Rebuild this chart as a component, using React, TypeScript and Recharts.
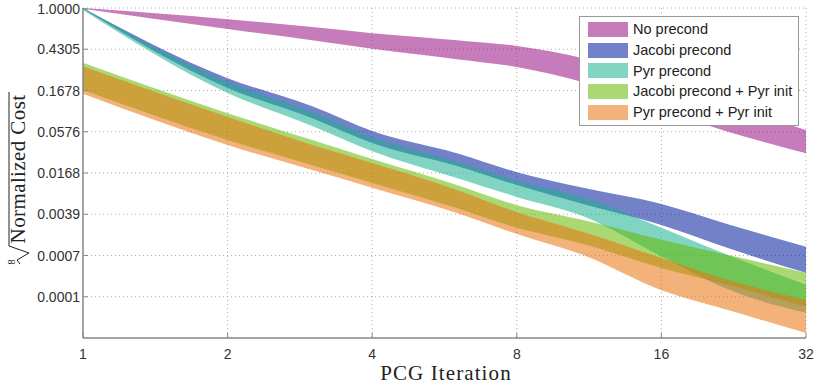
import { AreaChart, Area, XAxis, YAxis, CartesianGrid, Legend } from 'recharts';

// PCG iterations (log2 x axis)
const iterations = [1, 2, 3, 4, 6, 8, 11, 16, 22, 32];

// y values are the 8th root of the normalized cost, [low, high] per iteration
const noPrecond = [
  [0.998, 1.0], [0.949, 0.973], [0.922, 0.954], [0.901, 0.939], [0.876, 0.922],
  [0.857, 0.908], [0.82, 0.878], [0.752, 0.82], [0.7, 0.766], [0.648, 0.704],
];
const jacobiPrecond = [
  [0.998, 1.0], [0.806, 0.83], [0.733, 0.762], [0.673, 0.702], [0.617, 0.648],
  [0.571, 0.602], [0.525, 0.564], [0.474, 0.525], [0.418, 0.476], [0.358, 0.421],
];
const pyrPrecond = [
  [0.995, 1.0], [0.794, 0.821], [0.714, 0.748], [0.653, 0.687], [0.588, 0.627],
  [0.542, 0.581], [0.495, 0.541], [0.398, 0.467], [0.318, 0.401], [0.261, 0.329],
];
const jacobiPyrInit = [
  [0.801, 0.867], [0.68, 0.745], [0.619, 0.68], [0.576, 0.634], [0.515, 0.571],
  [0.467, 0.522], [0.428, 0.486], [0.37, 0.438], [0.329, 0.401], [0.275, 0.358],
];
const pyrPyrInit = [
  [0.792, 0.859], [0.668, 0.736], [0.607, 0.668], [0.564, 0.624], [0.503, 0.559],
  [0.452, 0.505], [0.401, 0.457], [0.316, 0.394], [0.268, 0.341], [0.212, 0.292],
];

const seriesNames = ['No precond', 'Jacobi precond', 'Pyr precond', 'Jacobi precond + Pyr init', 'Pyr precond + Pyr init'];
const seriesKeys = ['noPrecond', 'jacobiPrecond', 'pyrPrecond', 'jacobiPyrInit', 'pyrPyrInit'];
// saturated face colours, drawn half transparent like the original fills
const seriesColors = ['#970F82', '#001A9D', '#1CB190', '#64B800', '#E7730D'];
const faceAlpha = 0.55;

const xTicks = [1, 2, 4, 8, 16, 32];
const yTicks = [0.3, 0.4, 0.5, 0.6, 0.7, 0.8, 0.9, 1.0];
const yTickLabels = ['0.0001', '0.0007', '0.0039', '0.0168', '0.0576', '0.1678', '0.4305', '1.0000'];

const chartData = iterations.map((iter, i) => ({
  iter,
  noPrecond: noPrecond[i],
  jacobiPrecond: jacobiPrecond[i],
  pyrPrecond: pyrPrecond[i],
  jacobiPyrInit: jacobiPyrInit[i],
  pyrPyrInit: pyrPyrInit[i],
}));

const sans = '"Liberation Sans", Arial, Helvetica, sans-serif';
const serif = '"Liberation Serif", "Times New Roman", serif';
const axisColor = '#888';

const XTick = ({ x, y, payload }: any) => (
  <g>
    <line x1={x} x2={x} y1={y} y2={y - 5} stroke={axisColor} />
    <text x={x} y={y + 21} textAnchor="middle" fontFamily={sans} fontSize={14} fill="#333">
      {payload.value}
    </text>
  </g>
);

const YTick = ({ x, y, payload }: any) => {
  const idx = yTicks.findIndex((t) => Math.abs(t - payload.value) < 1e-6);
  return (
    <g>
      <line x1={x} x2={x + 5} y1={y} y2={y} stroke={axisColor} />
      <text x={x - 3} y={y + 5} textAnchor="end" fontFamily={sans} fontSize={14} fill="#333">
        {idx >= 0 ? yTickLabels[idx] : ''}
      </text>
    </g>
  );
};

const XLabel = () => (
  <text x={446} y={380} textAnchor="middle" fontFamily={serif} fontSize={21} letterSpacing={1.1} fill="#222">
    PCG Iteration
  </text>
);

// 8th-root radical over "Normalized Cost", rotated
const YLabel = () => (
  <g transform="translate(25, 169) rotate(-90)">
    <text x={0} y={0} textAnchor="middle" fontFamily={serif} fontSize={21} letterSpacing={0.4} fill="#222">
      Normalized Cost
    </text>
    <path d="M -95 -5 L -91 -8 L -84 4 L -77 -16 L 77 -16" fill="none" stroke="#222" strokeWidth={1} />
    <text x={-93} y={-10} textAnchor="middle" fontFamily={serif} fontSize={10} fill="#222">8</text>
  </g>
);

const renderLegend = () => (
  <div
    style={{
      boxSizing: 'border-box',
      width: 220,
      height: 110,
      border: '1px solid #999',
      background: '#fff',
      padding: '2px 0 0 8px',
      fontFamily: sans,
      fontSize: 14.5,
      color: '#222',
    }}
  >
    {seriesNames.map((name, i) => (
      <div key={name} style={{ display: 'flex', alignItems: 'center', height: 20.7 }}>
        <span
          style={{
            display: 'inline-block',
            width: 40,
            height: 15,
            background: seriesColors[i],
            opacity: faceAlpha,
            marginRight: 5,
          }}
        />
        <span>{name}</span>
      </div>
    ))}
  </div>
);

export default function App() {
  return (
    <div style={{ width: 815, height: 386, background: '#fff' }}>
      <style>{'body{margin:0}'}</style>
      <AreaChart
        width={815}
        height={386}
        data={chartData}
        margin={{ top: 8, right: 9, bottom: 8, left: 8 }}
      >
        {seriesKeys.map((key, i) => (
          <Area
            key={key}
            dataKey={key}
            type="monotone"
            stroke="none"
            fill={seriesColors[i]}
            fillOpacity={faceAlpha}
            isAnimationActive={false}
            activeDot={false}
          />
        ))}
        <CartesianGrid stroke="#aaa" strokeDasharray="1 3" />
        <XAxis
          dataKey="iter"
          type="number"
          scale="log"
          domain={[1, 32]}
          ticks={xTicks}
          allowDataOverflow
          height={40}
          tickSize={0}
          tickMargin={0}
          tickLine={false}
          tick={<XTick />}
          stroke={axisColor}
          strokeWidth={1.5}
          label={<XLabel />}
        />
        <YAxis
          type="number"
          domain={[0.2, 1]}
          ticks={yTicks}
          allowDataOverflow
          width={75}
          tickSize={0}
          tickMargin={0}
          tickLine={false}
          tick={<YTick />}
          stroke={axisColor}
          strokeWidth={1.5}
          label={<YLabel />}
        />
        <Legend
          content={renderLegend}
          layout="vertical"
          align="center"
          verticalAlign="middle"
          wrapperStyle={{ top: 16, left: 579, width: 220 }}
        />
      </AreaChart>
    </div>
  );
}
